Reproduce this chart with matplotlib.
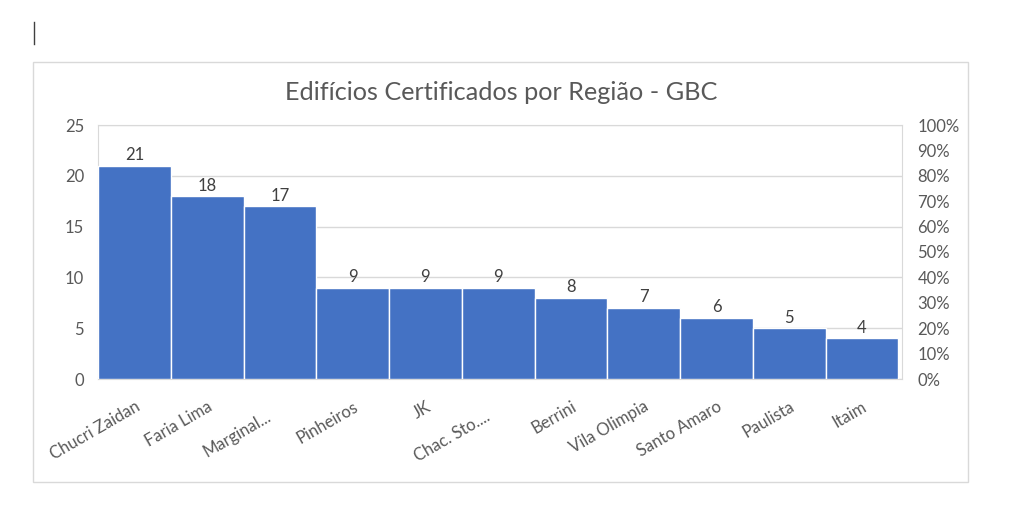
import matplotlib.pyplot as plt
import numpy as np
from matplotlib.patches import Rectangle
from matplotlib.lines import Line2D
from matplotlib.transforms import ScaledTranslation

regioes = ['Chucri Zaidan', 'Faria Lima', 'Marginal...', 'Pinheiros', 'JK',
           'Chac. Sto....', 'Berrini', 'Vila Olimpia', 'Santo Amaro',
           'Paulista', 'Itaim']
edificios = [21, 18, 17, 9, 9, 9, 8, 7, 6, 5, 4]
pct_ticks = [0, 10, 20, 30, 40, 50, 60, 70, 80, 90, 100]

plt.rcParams['font.family'] = ['Lato', 'DejaVu Sans']
txt = '#595959'
grid = '#d9d9d9'

fig = plt.figure(figsize=(10.16, 5.19), dpi=100)
ax = fig.add_axes([98 / 1016, 1 - 379 / 519, 804 / 1016, 254 / 519])

x = np.arange(len(regioes))
ax.bar(x, edificios, width=1.0, color='#4472c4', edgecolor='white',
       linewidth=1.0, zorder=3)
for xi, v in zip(x, edificios):
    ax.text(xi, v + 0.25, str(v), ha='center', va='bottom', fontsize=12,
            color='#404040')

ax.set_xlim(-0.5, 10.55)
ax.set_ylim(0, 25)
ax.set_yticks(range(0, 26, 5))
ax.yaxis.grid(True, color=grid, linewidth=1, zorder=0)
ax.set_xticks(x)
ax.set_xticklabels(regioes, rotation=30, ha='right', rotation_mode='anchor',
                   fontsize=12, color=txt)
ax.tick_params(axis='both', length=0, labelsize=12, labelcolor=txt)
ax.tick_params(axis='x', pad=14)
ax.tick_params(axis='y', pad=10)
for s in ax.spines.values():
    s.set_color(grid)

# truncated labels sit a bit lower-left, like in Excel
for lab in ax.get_xticklabels():
    if lab.get_text().endswith('...') or lab.get_text().endswith('....'):
        lab.set_transform(lab.get_transform() +
                          ScaledTranslation(-0.14, -0.10, fig.dpi_scale_trans))

ax2 = ax.twinx()
ax2.set_ylim(0, 100)
ax2.set_yticks(pct_ticks)
ax2.set_yticklabels([f'{p}%' for p in pct_ticks])
ax2.tick_params(axis='y', length=0, labelsize=12, labelcolor=txt, pad=11)
for s in ax2.spines.values():
    s.set_visible(False)

fig.text(501 / 1016, 1 - 92 / 519, 'Edifícios Certificados por Região - GBC',
         ha='center', va='center', fontsize=18.2, color=txt)

fig.patches.append(Rectangle((33 / 1016, 1 - 482 / 519), 935 / 1016, 420 / 519,
                             transform=fig.transFigure, fill=False,
                             edgecolor=grid, linewidth=1))
fig.lines.append(Line2D([34 / 1016, 34 / 1016], [1 - 44 / 519, 1 - 22 / 519],
                        transform=fig.transFigure, color='#404040', linewidth=1))

fig.savefig('out.png', dpi=100)
